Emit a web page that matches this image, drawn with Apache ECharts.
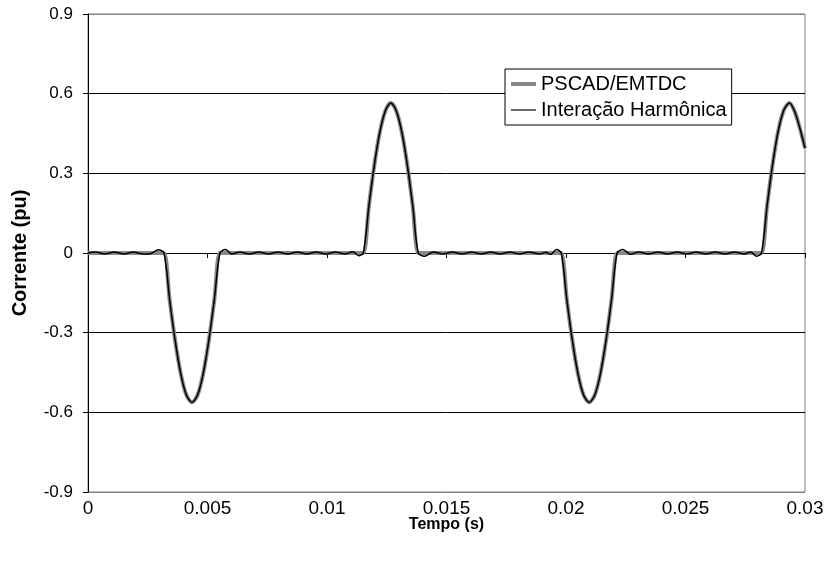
<!DOCTYPE html>
<html>
<head>
<meta charset="utf-8">
<script src="https://cdn.jsdelivr.net/npm/echarts@6/dist/echarts.min.js"></script>
<style>html,body{margin:0;padding:0;background:#fff}#c{width:827px;height:564px}</style>
</head>
<body>
<div id="c"></div>
<script>
const seriesNames = ['PSCAD/EMTDC', 'Interação Harmônica'];
const xTitle = 'Tempo (s)';
const yTitle = 'Corrente (pu)';
const xTickLabels = ['0', '0.005', '0.01', '0.015', '0.02', '0.025', '0.03'];
const yTickLabels = ['-0.9', '-0.6', '-0.3', '0', '0.3', '0.6', '0.9'];

const pscadTime = [0, 0.00295, 0.00318, 0.003414, 0.003648, 0.003882, 0.004116, 0.00435, 0.004584, 0.004818, 0.005052, 0.005286, 0.00552, 0.00575,
  0.0113, 0.01152, 0.01175, 0.01198, 0.01221, 0.01244, 0.01267, 0.0129, 0.01313, 0.01336, 0.01359, 0.01382, 0.01405,
  0.0196, 0.0198, 0.020034, 0.020268, 0.020502, 0.020736, 0.02097, 0.021204, 0.021438, 0.021672, 0.021906, 0.02214, 0.02237,
  0.02795, 0.02818, 0.02841, 0.02864, 0.02887, 0.0291, 0.02935, 0.02958, 0.0298, 0.03];
const pscadValues = [0, 0, 0, -0.175, -0.331, -0.455, -0.535, -0.5625, -0.535, -0.455, -0.331, -0.175, 0, 0,
  0, 0, 0.175, 0.331, 0.455, 0.535, 0.565, 0.535, 0.455, 0.331, 0.175, 0, 0,
  0, 0, -0.175, -0.331, -0.455, -0.535, -0.5625, -0.535, -0.455, -0.331, -0.175, 0, 0,
  0, 0, 0.175, 0.331, 0.455, 0.535, 0.565, 0.53, 0.465, 0.395];

const harmTime = [0, 0.0003, 0.0007, 0.0011, 0.0015, 0.0019, 0.0023, 0.0026, 0.00294, 0.00318,
  0.003414, 0.003648, 0.003882, 0.004116, 0.00435, 0.004584, 0.004818, 0.005052, 0.005286, 0.00552,
  0.00575, 0.00602, 0.00635, 0.00675, 0.00715, 0.00755, 0.00795, 0.00835, 0.00875, 0.00915, 0.00955, 0.00995, 0.01035, 0.01075, 0.01108, 0.01133, 0.01152,
  0.01175, 0.01198, 0.01221, 0.01244, 0.01267, 0.0129, 0.01313, 0.01336, 0.01359, 0.01382,
  0.01408, 0.01445, 0.01485, 0.01525, 0.01565, 0.01605, 0.01645, 0.01685, 0.01725, 0.01765, 0.01805, 0.01845, 0.0189, 0.01915, 0.01935, 0.0196, 0.0198,
  0.020034, 0.020268, 0.020502, 0.020736, 0.02097, 0.021204, 0.021438, 0.021672, 0.021906, 0.02214,
  0.02238, 0.0227, 0.02305, 0.02345, 0.02385, 0.02425, 0.02465, 0.02505, 0.02545, 0.02585, 0.02625, 0.02665, 0.02705, 0.02745, 0.02772, 0.02798, 0.02818,
  0.02841, 0.02864, 0.02887, 0.0291, 0.02935, 0.02958, 0.0298, 0.03];
const harmValues = [0, 0.004, -0.004, 0.004, -0.004, 0.004, -0.004, -0.003, 0.012, 0,
  -0.175, -0.331, -0.455, -0.535, -0.5625, -0.535, -0.455, -0.331, -0.175, 0,
  0.013, -0.004, 0.004, -0.004, 0.004, -0.004, 0.004, -0.004, 0.004, -0.004, 0.004, -0.004, 0.004, -0.004, 0.005, -0.010, 0,
  0.175, 0.331, 0.455, 0.535, 0.565, 0.535, 0.455, 0.331, 0.175, 0,
  -0.012, 0.004, -0.004, 0.004, -0.004, 0.004, -0.004, 0.004, -0.004, 0.004, -0.004, 0.004, -0.004, 0.003, -0.005, 0.013, 0,
  -0.175, -0.331, -0.455, -0.535, -0.5625, -0.535, -0.455, -0.331, -0.175, 0,
  0.013, -0.005, 0.004, -0.004, 0.004, -0.004, 0.004, -0.004, 0.004, -0.004, 0.004, -0.004, 0.004, -0.004, 0.004, -0.012, 0,
  0.175, 0.331, 0.455, 0.535, 0.565, 0.53, 0.465, 0.395];

const xMin = 0, xMax = 0.03, xStep = 0.005;
const yMin = -0.9, yMax = 0.9, yStep = 0.3;
const FONT = '"Liberation Sans", Arial, sans-serif';

const pscadData = pscadTime.map((t, i) => [t, pscadValues[i]]);
const harmData = harmTime.map((t, i) => [t, harmValues[i]]);

const chart = echarts.init(document.getElementById('c'), null, {renderer: 'canvas'});
chart.setOption({
  animation: false,
  backgroundColor: '#ffffff',
  textStyle: {fontFamily: FONT},
  grid: {left: 88, right: 22, top: 14, bottom: 72, containLabel: false, outerBoundsMode: 'none',
    show: true, borderColor: '#808080', borderWidth: 1, backgroundColor: 'transparent'},
  legend: {
    left: 505, top: 69, orient: 'vertical',
    backgroundColor: '#ffffff', borderColor: '#000000', borderWidth: 1,
    padding: [5, 5, 5, 4], itemGap: 6, itemWidth: 25, itemHeight: 20,
    textStyle: {fontSize: 20, lineHeight: 20, color: '#000', fontFamily: FONT},
    data: [
      {name: seriesNames[0], lineStyle: {width: 4, color: '#888888'}, itemStyle: {opacity: 0}},
      {name: seriesNames[1], lineStyle: {width: 1.2, color: '#000000'}, itemStyle: {opacity: 0}}
    ]
  },
  xAxis: [
    {
      type: 'value', min: xMin, max: xMax, interval: xStep, position: 'bottom',
      axisLine: {show: false, onZero: false},
      axisTick: {show: false},
      axisLabel: {
        margin: 7, fontSize: 19, color: '#000', fontFamily: FONT,
        formatter: v => xTickLabels[Math.round((v - xMin) / xStep)]
      },
      splitLine: {show: false},
      name: xTitle, nameLocation: 'middle', nameGap: 25, nameMoveOverlap: false,
      nameTextStyle: {fontSize: 16, fontWeight: 'bold', color: '#000', fontFamily: FONT}
    },
    {
      type: 'value', min: xMin, max: xMax, interval: xStep, position: 'top',
      axisLine: {show: true, onZero: true, lineStyle: {color: '#000', width: 1}},
      axisTick: {show: true, inside: true, length: 5, lineStyle: {color: '#000'}},
      axisLabel: {show: false},
      splitLine: {show: false}
    }
  ],
  yAxis: {
    type: 'value', min: yMin, max: yMax, interval: yStep,
    axisLine: {show: true, onZero: false, lineStyle: {color: '#000', width: 1}},
    axisTick: {show: true, length: 5, lineStyle: {color: '#000'}},
    axisLabel: {
      margin: 15, fontSize: 17, color: '#000', fontFamily: FONT,
      formatter: v => yTickLabels[Math.round((v - yMin) / yStep)]
    },
    splitLine: {show: true, lineStyle: {color: ['#808080', '#000', '#000', '#000', '#000', '#000', '#808080'], width: 1}},
    name: yTitle, nameLocation: 'middle', nameGap: 58, nameRotate: 90, nameMoveOverlap: false,
    nameTextStyle: {fontSize: 20, fontWeight: 'bold', color: '#000', fontFamily: FONT}
  },
  series: [
    {
      name: seriesNames[0], type: 'line', xAxisIndex: 0, data: pscadData, showSymbol: false, symbol: 'none',
      smooth: 0.3, lineStyle: {color: '#888888', width: 4}, itemStyle: {color: '#888888'}, z: 2
    },
    {
      name: seriesNames[1], type: 'line', xAxisIndex: 0, data: harmData, showSymbol: false, symbol: 'none',
      smooth: 0.3, lineStyle: {color: '#000000', width: 1.5}, itemStyle: {color: '#000000'}, z: 3
    }
  ]
});
</script>
</body>
</html>
